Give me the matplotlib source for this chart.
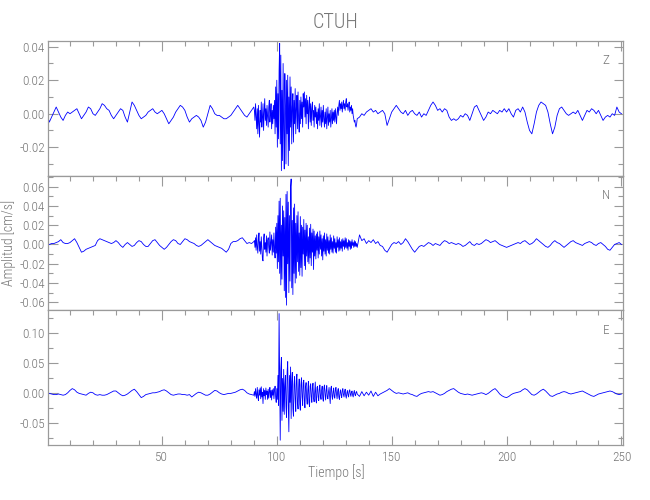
import numpy as np
import matplotlib
matplotlib.use("Agg")
import matplotlib.pyplot as plt
from matplotlib.ticker import MultipleLocator, FixedLocator, FormatStrFormatter

plt.rcParams['font.family'] = ['Roboto Condensed', 'DejaVu Sans']
plt.rcParams['font.weight'] = 'light'

# ---- data (amplitudes in 0.001 cm/s) ----
# quiet segment: t = 0..90 s every 1 s
# burst segment: t = 90.25..135 s every 0.25 s
# tail segment:  t = 136..250 s every 1 s
z_quiet = [0, -5, -2, 1, 4, 1, -2, -4, -1, 1,
           0, 1, 2, 3, 0, -3, -1, 1, 4, 3,
           0, -1, 1, 3, 6, 5, 3, 2, -1, -3,
           -1, 1, 3, 2, -2, -5, 1, 7, 5, 2,
           -1, -3, -2, -1, 1, 2, 3, 1, 0, 1,
           2, 0, -3, -6, -4, -2, 1, 3, 5, 4,
           2, -2, -5, -3, -2, -1, -2, -4, -8, -5,
           0, 5, 3, 0, -1, -1, -2, -3, -3, -2,
           -1, 1, 3, 5, 3, 1, -1, -2, 0, 2,
           4]
z_burst = [2, -4, 6, -1, -9, 3, -12, 5, -6, -14, 2, -5,
           7, -8, -2, 6, -10, 1, 9, -4, 3, -7, 5, -2,
           -8, 4, 8, -5, 0, 6, -9, 2, -6, 5, -3, 8,
           -12, 16, -8, 20, -20, 12, -15, 26, 42, -18, 35, -34,
           14, -28, 30, -10, -33, 24, 5, -30, 20, -12, 23, -31,
           10, -22, 22, -8, 16, -18, 4, 12, -17, 8, -6, 15,
           -12, 3, 11, -9, 13, -4, -11, 8, -6, 10, -3, 7,
           -8, 12, 4, 13, -2, 9, -6, 11, 0, 8, -9, 4,
           10, -5, 6, -7, 3, 7, -4, 2, -8, 5, -2, 4,
           -6, 1, -9, 3, -4, 6, -7, -1, 4, -8, 2, -5,
           5, -3, -8, 1, -6, 3, -9, -2, 4, -7, 0, -5,
           2, -8, -3, 3, -6, 1, -4, 2, -5, 3, -2, -6,
           1, 4, -1, 5, 8, 2, 6, 3, 7, 1, 5, 8,
           3, 6, 2, 7, 9, 4, 6, 2, 5, 7, 1, 4,
           2, 5, 0, 3, -1, -3, -5, -4, -7, -8, -6, -3]
z_tail = [-2, 0, -1, 1, 2, 3, 1, 2, 0, 1,
          2, 0, -7, -3, 1, 3, 5, 3, 1, 0,
          2, -1, 1, 2, 0, -1, 1, -2, 0, -1,
          2, 5, 7, 5, 2, 3, 1, 3, 2, -2,
          -4, -3, -4, -3, -1, -2, 0, -1, -4, 0,
          4, 5, 2, -1, -4, -2, 1, 0, 2, 1,
          0, 2, 1, 3, 1, 3, 0, -2, 2, 3,
          1, 4, 1, -5, -10, -12, -6, 1, 5, 7,
          6, 5, 1, -6, -12, -8, -1, 3, 4, 2,
          0, -1, 0, 1, 0, 2, -1, -4, -1, 2,
          1, 3, 2, 0, 2, -1, -4, -2, -1, -2,
          0, -1, 4, 1, 0]

n_quiet = [-1, 0, 1, 1, 2, 3, 5, 2, 1, 1,
           2, 4, 6, 2, -3, -8, -7, -5, -4, -3,
           -2, -1, 4, 6, 5, 4, 3, 2, 1, 2,
           4, 2, -1, -3, 0, 2, 0, -2, -1, 2,
           4, 3, 0, -2, -2, 1, 4, 5, 2, -1,
           -3, -5, -3, 0, 3, 5, 4, 1, 0, 3,
           6, 5, 3, 2, 1, -1, -2, -1, 1, 3,
           5, 3, 1, -1, -2, -3, -4, -6, -8, -5,
           1, 3, 3, 4, 6, 7, 4, 1, 2, 1,
           3]
n_burst = [4, -3, 7, -6, 10, -2, -9, 5, 12, -7, 3, -10,
           8, -4, -15, -17, 6, 11, -5, 2, -8, 9, -12, 4,
           7, -3, -9, 13, -6, 2, 10, -11, 5, -8, 12, -4,
           -14, 18, -9, 22, -25, 30, -18, 45, -30, 48, -42, 20,
           -36, 40, -12, 35, -48, 28, -55, 52, -63, 55, -20, 44,
           -50, 30, -38, 60, 68, -45, 25, -52, 38, -30, 42, -40,
           22, -35, 30, -18, 34, -28, 12, -32, 29, -24, 20, -33,
           18, -10, 26, -22, 15, -26, 22, -12, 20, -18, 8, -20,
           17, -14, 21, -22, 12, -8, 16, -26, 14, -12, 9, -15,
           11, -6, 13, -14, 8, -10, 14, -5, 10, -12, 6, -16,
           9, -7, 12, -10, 5, -12, 11, -6, 8, -9, 4, -10,
           10, -5, 7, -8, 3, -9, 9, -4, 6, -8, 2, -9,
           8, -3, 5, -7, 7, -6, 3, -4, 5, -7, 6, -2,
           4, -5, 7, -3, 6, -4, 2, -6, 5, -2, 4, -5,
           3, -4, 5, -1, 2, -3, 4, -2, 3, -2, 1, -3]
n_tail = [10, 4, 6, 1, 4, 2, 5, 1, 3, -1,
          -2, -6, -8, -4, 0, 2, 1, 3, 0, 2,
          6, 3, -1, -5, -8, -5, -2, -1, -2, 0,
          2, 1, -1, 1, 0, -1, 2, 4, 3, 1,
          2, 1, 0, 1, 0, -2, -1, 1, 3, 0,
          -1, 1, 0, 1, 3, 5, 4, 2, 3, 4,
          2, 0, -1, -2, -3, -2, -1, 0, 1, 2,
          1, 3, 4, 2, 0, 1, 3, 6, 4, 2,
          0, -2, -3, -1, 2, 4, 2, 1, -1, -3,
          -1, 1, 3, 4, 2, 1, 0, -1, 1, 2,
          3, 2, 0, -1, 1, 2, 0, -2, -5, -6,
          -3, 0, 1, 2, 0]

e_quiet = [1, 0, -1, -2, -2, -1, -2, -3, -2, 1,
           5, 8, 6, 2, 0, -1, -2, -3, 0, 2,
           1, -2, -3, -2, -3, -3, -2, 0, 2, 4,
           4, 1, -2, -4, -3, -1, 2, 5, 7, 3,
           -2, -7, -5, -2, -1, 0, 1, 1, 2, 3,
           5, 6, 4, 1, -2, -3, -2, -1, -1, -2,
           -2, -3, -2, -6, -3, 0, 2, 1, -1, -3,
           -3, -1, 2, 5, 4, 1, -1, -2, -1, 0,
           0, 1, 2, 4, 6, 7, 5, 1, -1, -2,
           -3]
e_burst = [3, -5, 8, -2, -8, 10, -4, -12, 6, -3, 9, -9,
           11, -6, 2, -17, 8, -4, 5, -10, 9, -2, 4, -10,
           7, -8, 3, 10, -7, 5, -11, 6, -3, 8, -9, 4,
           12, -6, -15, 8, -10, 30, -20, 133, 20, -78, 40, 60,
           -45, 25, -30, 40, -35, 12, 30, -22, -40, 36, 53, -20,
           -64, 30, -15, 44, -42, 20, 35, -25, -38, 15, 28, -10,
           -30, 22, 32, -14, -26, 8, 24, -18, -28, 14, 26, -6,
           -20, 18, 22, -12, -24, 10, 18, -8, -18, 6, 20, -15,
           -22, 12, 16, -5, -15, 9, 17, -8, -14, 4, 19, -11,
           -16, 10, 12, -6, -12, 7, 14, -4, -10, 5, 12, -8,
           -13, 9, 14, -3, -11, 6, 13, -7, -9, 2, 10, -5,
           -17, 8, 12, -4, -10, 3, 9, -6, -8, 6, 10, -2,
           -9, 4, 8, -6, -10, 2, 6, -3, -7, 5, 8, -2,
           -6, 3, 7, -4, -8, 1, 5, -3, -6, 4, 6, -1,
           -5, 2, 4, -3, -6, 1, 5, -2, -4, 2, 3, -1]
e_tail = [-5, 3, -4, 2, -3, 4, -5, 2, -4, -1,
          1, 3, 5, 8, 5, 2, 0, 1, 0, -1,
          0, 1, -1, -2, -4, -5, -2, 0, 1, 2,
          3, 2, 3, 1, -1, -3, -2, 0, 3, 5,
          7, 8, 5, 2, 0, -1, -2, -1, -2, -3,
          -2, -1, 0, 1, 0, -2, 0, 3, 6, 8,
          4, -1, -4, -6, -7, -5, -2, 0, 1, 2,
          3, 6, 8, 6, 2, -2, -3, -1, 2, 5,
          7, 4, 0, -4, -5, -3, -1, 0, 2, 3,
          2, 0, -1, 0, 1, 2, 3, 4, 2, 0,
          -2, -4, -5, -3, -1, 0, 1, 2, 3, 4,
          3, 1, -1, -2, -1]

components = ['Z', 'N', 'E']
title = 'CTUH'
xlabel = 'Tiempo [s]'
ylabel = 'Amplitud [cm/s]'
x_major = [50, 100, 150, 200, 250]


def build(q, b, t):
    tq = 0.0 + 1.0 * np.arange(len(q))
    tb = 90.25 + 0.25 * np.arange(len(b))
    tt = 136.0 + 1.0 * np.arange(len(t))
    tim = np.concatenate([tq, tb, tt])
    amp = np.concatenate([q, b, t]) * 1e-3
    return tim, amp


series = [build(z_quiet, z_burst, z_tail),
          build(n_quiet, n_burst, n_tail),
          build(e_quiet, e_burst, e_tail)]

ylims = [(-0.037, 0.0436), (-0.068, 0.0714), (-0.086, 0.139)]
ymajor = [0.02, 0.02, 0.05]
yminor = [0.01, 0.01, 0.025]

W, H = 650, 500
fig = plt.figure(figsize=(6.5, 5.0), dpi=100)
left, right = 47.7, 623.3
edges = [40.7, 175.7, 310.0, 445.0]

frame_c = '#9a9a9a'
text_c = '#767676'
px = 72.0 / 100.0  # points per pixel

for i in range(3):
    top, bot = edges[i], edges[i + 1]
    ax = fig.add_axes([left / W, 1 - bot / H, (right - left) / W, (bot - top) / H])
    tim, amp = series[i]
    ax.plot(tim, amp, color='#0000ff', lw=0.6)
    ax.set_xlim(0.3, 250.8)
    ax.set_ylim(*ylims[i])
    ax.xaxis.set_major_locator(FixedLocator(x_major))
    ax.xaxis.set_minor_locator(MultipleLocator(10))
    ax.yaxis.set_major_locator(MultipleLocator(ymajor[i]))
    ax.yaxis.set_minor_locator(MultipleLocator(yminor[i]))
    ax.yaxis.set_major_formatter(FormatStrFormatter('%.2f'))
    for s in ax.spines.values():
        s.set_color(frame_c)
        s.set_linewidth(0.9)
    last = (i == 2)
    ax.tick_params(axis='x', which='both', direction='in', colors=frame_c,
                   top=True, bottom=last, labelbottom=last, labelcolor=text_c,
                   labelsize=9.5, pad=4, width=0.8)
    ax.tick_params(axis='y', which='both', direction='in', colors=frame_c,
                   left=True, right=True, labelcolor=text_c, labelsize=9.5, pad=2,
                   width=0.8)
    ax.tick_params(axis='both', which='major', length=9.5 * px)
    ax.tick_params(axis='both', which='minor', length=5 * px)
    fig.text((right - 17) / W, 1 - (top + 20) / H, components[i],
             color=text_c, fontsize=9.5, ha='center', va='center')

fig.text(335.5 / W, 1 - 22.5 / H, title, color=text_c, fontsize=14.5,
         ha='center', va='center')
fig.text(336 / W, 1 - 472 / H, xlabel, color=text_c, fontsize=10,
         ha='center', va='center')
fig.text(8.5 / W, 1 - 242.5 / H, ylabel, color=text_c, fontsize=10,
         ha='center', va='center', rotation=90)

fig.savefig('out.png', dpi=100)
